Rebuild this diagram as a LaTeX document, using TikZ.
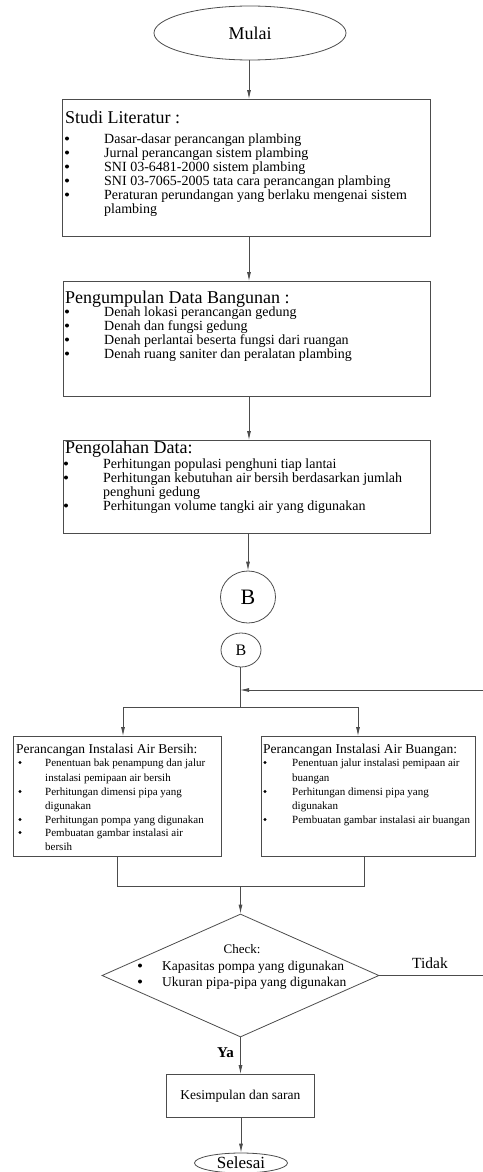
\documentclass[tikz,border=0pt]{standalone}
\usepackage{fontspec}
\setmainfont{Liberation Serif}
\usetikzlibrary{shapes.geometric,arrows.meta}
\newcommand{\fs}[1]{\fontsize{#1}{#1}\selectfont}
\begin{document}
\begin{tikzpicture}[x=1pt,y=-1pt,
  line/.style={draw=black!70, line width=0.8pt},
  arr/.style={line, -{Latex[length=9pt,width=4pt]}},
  box/.style={line, rectangle, inner sep=0pt, anchor=north west},
  term/.style={line, ellipse, inner sep=0pt},
  txt/.style={anchor=base west, inner sep=0pt},
  hdA/.style={txt, font=\fs{18}},
  itA/.style={txt, font=\fs{14}},
  hdB/.style={txt, font=\fs{13.5}},
  itB/.style={txt, font=\fs{11}},
  itC/.style={txt, font=\fs{13.5}},
  blA/.style={circle, fill=black, inner sep=0pt, minimum size=4pt},
  blB/.style={circle, fill=black, inner sep=0pt, minimum size=3.4pt}]
\useasboundingbox (0,0) rectangle (482,1172);

% ---- terminals and boxes
\node[term, minimum width=192pt, minimum height=54pt, font=\fs{18}] (mulai) at (250,33) {Mulai};
\node[box, minimum width=368pt, minimum height=137pt] (studi) at (62,99) {};
\node[box, minimum width=367pt, minimum height=115pt] (kumpul) at (63,281) {};
\node[box, minimum width=367pt, minimum height=93pt] (olah) at (63,440) {};
\node[term, minimum width=55pt, minimum height=52pt, font=\fs{22}] (b1) at (248,597) {B};
\node[term, minimum width=40pt, minimum height=34pt, font=\fs{16}] (b2) at (241,650) {B};
\node[box, minimum width=208pt, minimum height=120pt] (bersih) at (13,736) {};
\node[box, minimum width=214pt, minimum height=120pt] (buangan) at (261,736) {};
\node[line, diamond, inner sep=0pt, minimum width=277pt, minimum height=123pt] (check) at (240.5,975.5) {};
\node[box, minimum width=148pt, minimum height=43pt] (kes) at (166,1074) {};
\node[anchor=center, font=\fs{13.5}, inner sep=0pt] (kestxt) at (kes.center) {Kesimpulan dan saran};
\node[term, minimum width=93pt, minimum height=20pt, font=\fs{17}] (selesai) at (241,1163) {Selesai};

% ---- Studi Literatur
\node[hdA] (s0) at (65,123) {Studi Literatur :};
\node[blA] (sb1) at (67,138.5) {}; \node[itA] (s1) at (104,143) {Dasar-dasar perancangan plambing};
\node[blA] (sb2) at (67,152.5) {}; \node[itA] (s2) at (104,157) {Jurnal perancangan sistem plambing};
\node[blA] (sb3) at (67,166.5) {}; \node[itA] (s3) at (104,171) {SNI 03-6481-2000 sistem plambing};
\node[blA] (sb4) at (67,180.5) {}; \node[itA] (s4) at (104,185) {SNI 03-7065-2005 tata cara perancangan plambing};
\node[blA] (sb5) at (67,194.5) {}; \node[itA] (s5) at (104,199) {Peraturan perundangan yang berlaku mengenai sistem};
\node[itA] (s6) at (104,213) {plambing};

% ---- Pengumpulan Data Bangunan
\node[hdA] (k0) at (65,303) {Pengumpulan Data Bangunan :};
\node[blA] (kb1) at (67,311.5) {}; \node[itA] (k1) at (104,316) {Denah lokasi perancangan gedung};
\node[blA] (kb2) at (67,325.5) {}; \node[itA] (k2) at (104,330) {Denah dan fungsi gedung};
\node[blA] (kb3) at (67,339.5) {}; \node[itA] (k3) at (104,344) {Denah perlantai beserta fungsi dari ruangan};
\node[blA] (kb4) at (67,353.5) {}; \node[itA] (k4) at (104,358) {Denah ruang saniter dan peralatan plambing};

% ---- Pengolahan Data
\node[hdA] (o0) at (65,453) {Pengolahan Data:};
\node[blA] (ob1) at (66,463.5) {}; \node[itA] (o1) at (103,468) {Perhitungan populasi penghuni tiap lantai};
\node[blA] (ob2) at (66,477.5) {}; \node[itA] (o2) at (103,482) {Perhitungan kebutuhan air bersih berdasarkan jumlah};
\node[itA] (o3) at (103,496) {penghuni gedung};
\node[blA] (ob4) at (66,505.5) {}; \node[itA] (o4) at (103,510) {Perhitungan volume tangki air yang digunakan};

% ---- Air Bersih
\node[hdB] (p0) at (16,753) {Perancangan Instalasi Air Bersih:};
\node[blB] (pb1) at (20,762.5) {}; \node[itB] (p1) at (45,766) {Penentuan bak penampung dan jalur};
\node[itB] (p2) at (45,781) {instalasi pemipaan air bersih};
\node[blB] (pb3) at (20,791.5) {}; \node[itB] (p3) at (45,795) {Perhitungan dimensi pipa yang};
\node[itB] (p4) at (45,809) {digunakan};
\node[blB] (pb5) at (20,819.5) {}; \node[itB] (p5) at (45,823) {Perhitungan pompa yang digunakan};
\node[blB] (pb6) at (20,832.5) {}; \node[itB] (p6) at (45,836) {Pembuatan gambar instalasi air};
\node[itB] (p7) at (45,850) {bersih};

% ---- Air Buangan
\node[hdB] (q0) at (263,753) {Perancangan Instalasi Air Buangan:};
\node[blB] (qb1) at (265,762.5) {}; \node[itB] (q1) at (292,766) {Penentuan jalur instalasi pemipaan air};
\node[itB] (q2) at (292,781) {buangan};
\node[blB] (qb3) at (265,791.5) {}; \node[itB] (q3) at (292,795) {Perhitungan dimensi pipa yang};
\node[itB] (q4) at (292,809) {digunakan};
\node[blB] (qb5) at (265,819.5) {}; \node[itB] (q5) at (292,823) {Pembuatan gambar instalasi air buangan};

% ---- Check
\node[anchor=base, inner sep=0pt, font=\fs{13}] (c0) at (242,953) {Check:};
\node[blA] (cb1) at (140,965.5) {}; \node[itC] (c1) at (162,970) {Kapasitas pompa yang digunakan};
\node[blA] (cb2) at (140,981.5) {}; \node[itC] (c2) at (162,986) {Ukuran pipa-pipa yang digunakan};

% ---- connectors
\coordinate (spine) at (249,0);
\draw[arr] (mulai.south -| spine) -- (studi.north -| spine);
\draw[arr] (studi.south -| spine) -- (kumpul.north -| spine);
\draw[arr] (kumpul.south -| spine) -- (olah.north -| spine);
\draw[arr] (olah.south -| b1) -- (b1.north);

\coordinate (j1) at (240,707);
\coordinate (jl) at (123,707);
\coordinate (jr) at (358,707);
\coordinate (loopE) at (483,690);
\draw[line] (b2.south -| j1) -- (j1);
\draw[line] (jl) -- (jr);
\draw[arr] (jl) -- (jl |- bersih.north);
\draw[arr] (jr) -- (jr |- buangan.north);
\draw[arr] (loopE) -- (loopE -| j1);

\coordinate (ml) at (117,886);
\coordinate (mr) at (364,886);
\draw[line] (bersih.south -| ml) -- (ml) -- (mr) -- (buangan.south -| mr);
\draw[arr] (ml -| check.north) -- (check.north);

\coordinate (tidakE) at (483,973);
\draw[line] (check.east) -- (check.east -| tidakE);
\node[anchor=base, inner sep=0pt, font=\fs{15.5}] (tidak) at (430,968) {Tidak};

\draw[arr] (check.south) -- (kes.north -| check.south);
\node[anchor=base east, inner sep=0pt, font=\bfseries\fs{15}] (ya) at (234,1057) {Ya};
\draw[arr] (kes.south -| selesai.north) -- (selesai.north);
\end{tikzpicture}
\end{document}
